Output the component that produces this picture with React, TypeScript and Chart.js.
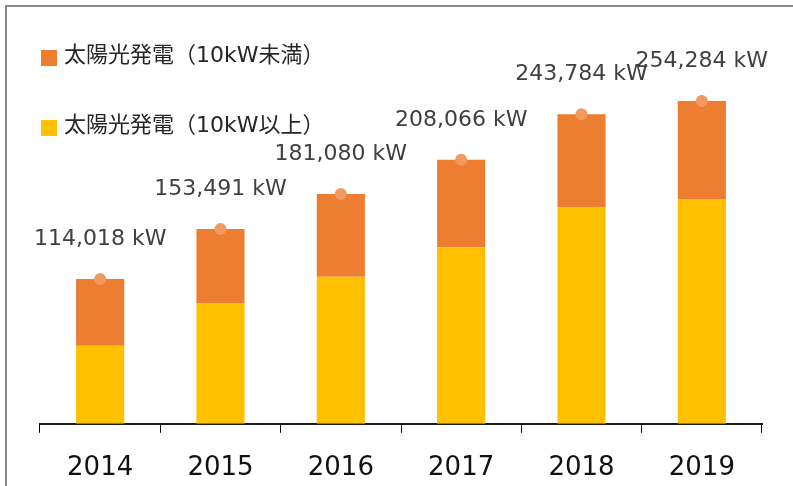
import React, { useEffect, useRef } from 'react';
import { Chart, registerables } from 'chart.js';

Chart.register(...registerables);

const categories = ['2014', '2015', '2016', '2017', '2018', '2019'];
const over10kW = [61500, 94800, 115900, 139000, 170500, 177100];
const under10kW = [52518, 58691, 65180, 69066, 73284, 77184];
const totals = [114018, 153491, 181080, 208066, 243784, 254284];
const seriesLabels = ['太陽光発電（10kW以上）', '太陽光発電（10kW未満）'];

const FONT = '"DejaVu Sans", "Noto Sans CJK JP", sans-serif';

const totalLabelPlugin = {
  id: 'totalLabels',
  afterDatasetsDraw(chart: any) {
    const ctx = chart.ctx;
    const meta = chart.getDatasetMeta(2);
    ctx.save();
    ctx.font = `22px ${FONT}`;
    ctx.fillStyle = '#404040';
    ctx.textAlign = 'center';
    ctx.textBaseline = 'alphabetic';
    meta.data.forEach((pt: any, i: number) => {
      ctx.fillText(`${totals[i].toLocaleString('en-US')} kW`, pt.x, pt.y - 34);
    });
    ctx.restore();
  },
};

const legendPlugin = {
  id: 'customLegend',
  afterDraw(chart: any) {
    const ctx = chart.ctx;
    const items = [1, 0];
    ctx.save();
    ctx.font = `22px ${FONT}`;
    ctx.textAlign = 'left';
    ctx.textBaseline = 'alphabetic';
    items.forEach((dsIndex, row) => {
      const ds = chart.data.datasets[dsIndex];
      const y = 50 + row * 70;
      ctx.fillStyle = ds.backgroundColor;
      ctx.fillRect(41, y, 16, 16);
      ctx.fillStyle = '#262626';
      ctx.fillText(ds.label, 64, y + 12);
    });
    ctx.restore();
  },
};

export default function App() {
  const canvasRef = useRef<HTMLCanvasElement | null>(null);

  useEffect(() => {
    if (!canvasRef.current) return;
    const chart = new Chart(canvasRef.current, {
      type: 'bar',
      data: {
        labels: categories,
        datasets: [
          {
            type: 'bar',
            label: seriesLabels[0],
            data: over10kW,
            backgroundColor: '#FFC000',
            stack: 'bars',
            order: 1,
            categoryPercentage: 1,
            barPercentage: 0.4,
          },
          {
            type: 'bar',
            label: seriesLabels[1],
            data: under10kW,
            backgroundColor: '#ED7D31',
            stack: 'bars',
            order: 1,
            categoryPercentage: 1,
            barPercentage: 0.4,
          },
          {
            type: 'line',
            label: '合計',
            data: totals,
            stack: 'total',
            showLine: false,
            pointRadius: 6,
            pointBackgroundColor: '#F2995E',
            pointBorderWidth: 0,
            borderColor: '#F2995E',
            order: 0,
          } as any,
        ],
      },
      options: {
        animation: false,
        responsive: true,
        maintainAspectRatio: false,
        layout: { padding: { left: 40, right: 31, top: 43, bottom: 0 } },
        plugins: {
          legend: { display: false },
          tooltip: { enabled: false },
        },
        scales: {
          x: {
            stacked: true,
            offset: true,
            grid: {
              display: true,
              drawOnChartArea: false,
              drawTicks: true,
              tickLength: 9,
              color: '#000000',
              lineWidth: 1,
              offset: true,
            },
            border: { display: true, color: '#1a1a1a', width: 2 },
            ticks: {
              color: '#111111',
              font: { size: 26, family: FONT },
              padding: 20,
            },
          },
          y: {
            display: false,
            stacked: true,
            min: 0,
            max: 300000,
          },
        },
      },
      plugins: [totalLabelPlugin, legendPlugin],
    });
    return () => chart.destroy();
  }, []);

  return (
    <div style={{ position: 'fixed', left: 0, top: 0, width: 793, height: 486, background: '#ffffff', overflow: 'hidden' }}>
      <div
        style={{
          position: 'absolute',
          left: 5,
          top: 5,
          width: 820,
          height: 520,
          borderTop: '2px solid #878787',
          borderLeft: '2px solid #878787',
        }}
      />
      <div style={{ position: 'absolute', left: 0, top: 0, width: 793, height: 504 }}>
        <canvas ref={canvasRef} />
      </div>
    </div>
  );
}
